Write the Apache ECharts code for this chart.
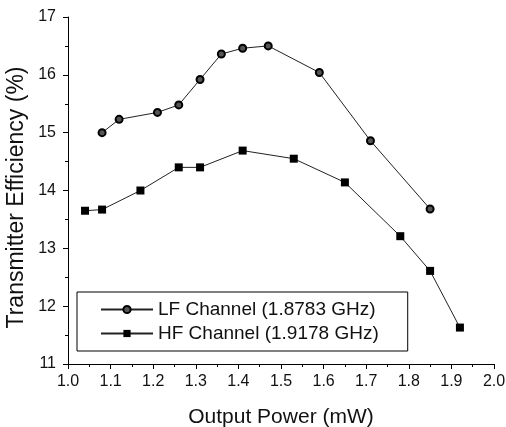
<!DOCTYPE html>
<html>
<head>
<meta charset="utf-8">
<script src="https://cdn.jsdelivr.net/npm/echarts@6/dist/echarts.min.js"></script>
<style>
  html, body { margin: 0; padding: 0; background: #fff; }
  #chart { width: 506px; height: 427px; }
</style>
</head>
<body>
<div id="chart"></div>
<script>
// values
const lfPower = [1.08, 1.12, 1.21, 1.26, 1.31, 1.36, 1.41, 1.47, 1.59, 1.71, 1.85]
const lfEff = [15.0, 15.23, 15.35, 15.48, 15.92, 16.36, 16.46, 16.5, 16.04, 14.86, 13.68]
const hfPower = [1.04, 1.08, 1.17, 1.26, 1.31, 1.41, 1.53, 1.65, 1.78, 1.85, 1.92]
const hfEff = [13.65, 13.67, 14.0, 14.4, 14.4, 14.69, 14.55, 14.14, 13.21, 12.61, 11.63]
const xTicks = ['1.0', '1.1', '1.2', '1.3', '1.4', '1.5', '1.6', '1.7', '1.8', '1.9', '2.0']

const font = "'Liberation Sans', Arial, sans-serif"

let myChart = echarts.init(document.getElementById('chart'))

const pairs = (xs, ys) => xs.map((x, i) => [x, ys[i]])

const axisCommon = {
  axisLine: { show: true, lineStyle: { color: '#000', width: 1 } },
  axisTick: { show: true, inside: false, length: 5, lineStyle: { color: '#000', width: 1 } },
  minorTick: { show: true, splitNumber: 2, length: 3, lineStyle: { color: '#000', width: 1 } },
  splitLine: { show: false },
}

const option = {
  backgroundColor: '#fff',
  animation: false,
  grid: { left: 68, right: 12, top: 17, bottom: 63, containLabel: false, outerBoundsMode: 'none' },
  legend: {
    left: 77,
    top: 292,
    orient: 'vertical',
    padding: [8, 29, 8, 23],
    itemGap: 5,
    itemWidth: 52,
    itemHeight: 9,
    borderColor: '#000',
    borderWidth: 1,
    textStyle: { fontFamily: font, fontSize: 19, color: '#111', lineHeight: 18 },
    data: ['LF Channel (1.8783 GHz)', 'HF Channel (1.9178 GHz)'],
  },
  xAxis: Object.assign({}, axisCommon, {
    type: 'value',
    min: 1,
    max: 2,
    interval: 0.1,
    name: 'Output Power (mW)',
    nameLocation: 'middle',
    nameGap: 43,
    nameTextStyle: { fontFamily: font, fontSize: 21, color: '#111' },
    axisLabel: {
      margin: 10,
      fontFamily: font,
      fontSize: 16,
      color: '#111',
      formatter: (v) => xTicks[Math.round((v - 1) * 10)],
    },
  }),
  yAxis: Object.assign({}, axisCommon, {
    type: 'value',
    min: 11,
    max: 17,
    interval: 1,
    name: 'Transmitter Efficiency (%)',
    nameLocation: 'middle',
    nameGap: 40,
    nameMoveOverlap: false,
    nameTextStyle: { fontFamily: font, fontSize: 23, color: '#111', padding: [0, 14, 0, 0] },
    axisLabel: { margin: 12, fontFamily: font, fontSize: 16, color: '#111' },
  }),
  series: [
    {
      name: 'LF Channel (1.8783 GHz)',
      type: 'line',
      data: pairs(lfPower, lfEff),
      symbol: 'circle',
      symbolSize: 7,
      lineStyle: { color: '#222', width: 1 },
      itemStyle: { color: '#555', borderColor: '#000', borderWidth: 2 },
    },
    {
      name: 'HF Channel (1.9178 GHz)',
      type: 'line',
      data: pairs(hfPower, hfEff),
      symbol: 'rect',
      symbolSize: 8,
      lineStyle: { color: '#222', width: 1 },
      itemStyle: { color: '#000', borderWidth: 0 },
    },
  ],
}

myChart.setOption(option)
</script>
</body>
</html>
